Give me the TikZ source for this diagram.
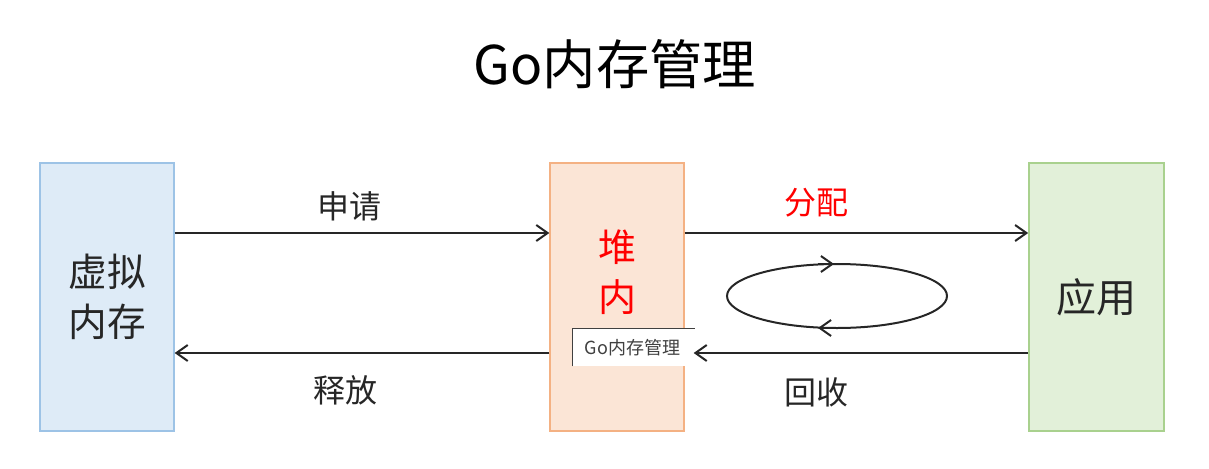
\documentclass[tikz,border=0pt]{standalone}
\usepackage{fontspec}
\setmainfont{Noto Sans CJK SC}
\usetikzlibrary{arrows.meta}
\definecolor{ink}{HTML}{262626}
\definecolor{vmfill}{HTML}{DEEBF7}
\definecolor{vmline}{HTML}{9DC3E6}
\definecolor{heapfill}{HTML}{FBE5D6}
\definecolor{heapline}{HTML}{F4B183}
\definecolor{appfill}{HTML}{E2F0D9}
\definecolor{appline}{HTML}{A9D18E}
\definecolor{tipline}{HTML}{404040}
\tikzset{
  blockbox/.style={rectangle, minimum width=100pt, minimum height=201pt, line width=1.5pt, inner sep=0pt, align=center, text=ink},
  arr/.style={draw=ink, line width=1.5pt, -{Straight Barb[length=8.5pt,width=12pt,line width=1.5pt]}},
  lbl/.style={font=\fontsize{24}{28}\selectfont, text=ink, inner sep=0pt},
}
\begin{document}
\begin{tikzpicture}[x=0.75pt,y=-0.75pt]
\useasboundingbox (0,0) rectangle (1209,468);
\node[font=\fontsize{40}{44}\selectfont, text=black] (title) at (615,64) {Go内存管理};

\node[blockbox, fill=vmfill, draw=vmline, font=\fontsize{29}{37.5}\selectfont] (vm) at (107,297) {虚拟\\内存};
\node[blockbox, fill=heapfill, draw=heapline, text=red, font=\fontsize{28.5}{37.5}\selectfont] (heap) at (617,297) {堆\\内\\存};
\node[blockbox, fill=appfill, draw=appline, minimum width=101pt, font=\fontsize{30}{36}\selectfont] (app) at (1096.5,297) {应用};

\draw[arr] ([yshift=48pt]vm.east) -- ([yshift=48pt]heap.west);
\draw[arr] ([yshift=48pt]heap.east) -- ([yshift=48pt]app.west);
\draw[arr] ([yshift=-42pt]heap.west) -- ([yshift=-42pt]vm.east);

\node[lbl] (apply) at (349,206) {申请};
\node[lbl, text=red] (alloc) at (816,203) {分配};
\node[lbl] (release) at (345,390) {释放};
\node[lbl] (reclaim) at (816,392) {回收};

\coordinate (loopc) at (837,296);
\draw[ink, line width=1.5pt] (loopc) ellipse [x radius=110, y radius=32];
\coordinate (ta) at (818,264);
\coordinate (tb) at (834,264);
\coordinate (ba) at (834,328);
\coordinate (bb) at (818,328);
\draw[arr] (ta) -- (tb);
\draw[arr] (ba) -- (bb);

\node[fill=white, minimum width=90pt, minimum height=27.75pt, inner sep=0pt, font=\fontsize{13.5}{16}\selectfont, text=tipline] (tip) at (632.5,347.5) {Go内存管理};
\draw[tipline, line width=0.75pt] (tip.south west) -- (tip.north west) -- ([xshift=2pt]tip.north east);
\draw[arr] ([yshift=-42pt]app.west) -- ([yshift=-42pt,xshift=6.75pt]heap.east);
\end{tikzpicture}
\end{document}
